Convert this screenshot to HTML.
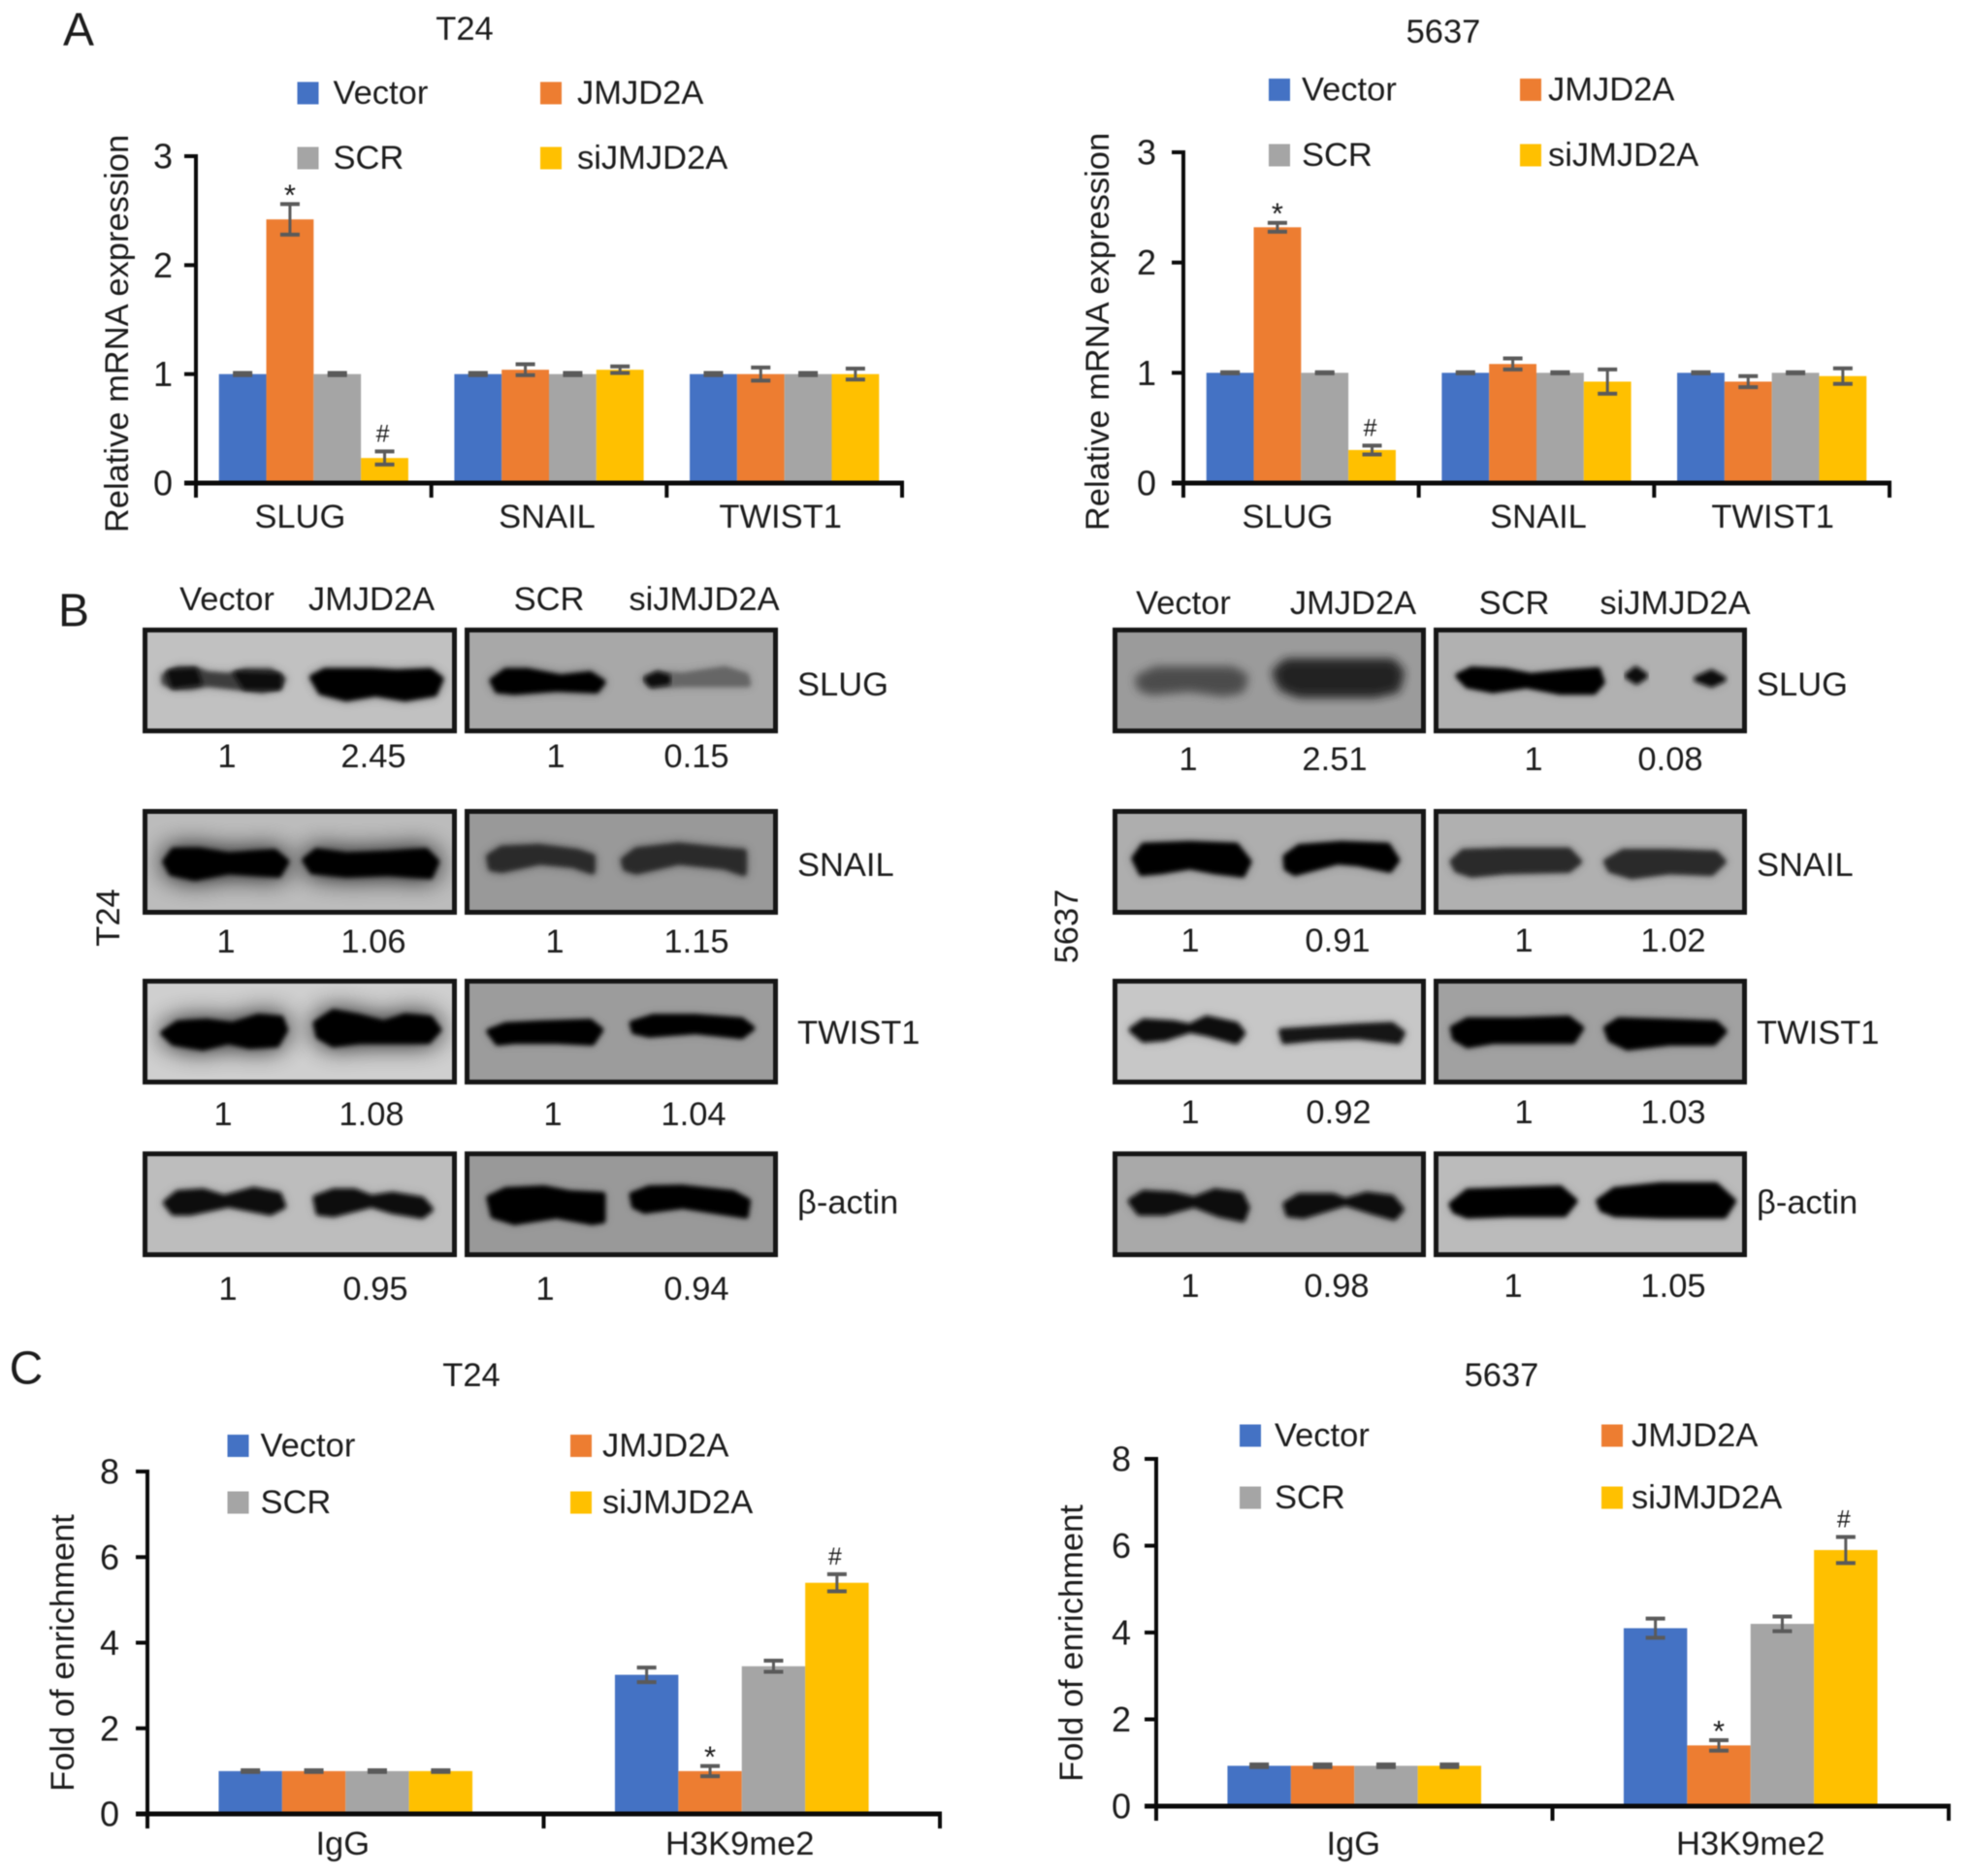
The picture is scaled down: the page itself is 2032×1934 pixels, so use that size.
<!DOCTYPE html>
<html lang="en">
<head>
<meta charset="utf-8">
<title>JMJD2A expression figure</title>
<style>
html,body{margin:0;padding:0;background:#fff;width:2032px;height:1934px;overflow:hidden}
svg{display:block;filter:blur(.55px)}
text{font-family:"Liberation Sans",sans-serif;font-size:34.5px;fill:#1c1c1c}
.m{text-anchor:middle;dominant-baseline:central}
.s{text-anchor:start;dominant-baseline:central}
.e{text-anchor:end;dominant-baseline:central}
</style>
</head>
<body>
<svg id="figure" xmlns="http://www.w3.org/2000/svg" width="2032" height="1934" viewBox="0 0 2032 1934">
<defs>
<filter id="b2" x="-20%" y="-80%" width="140%" height="260%"><feGaussianBlur stdDeviation="2.4"/></filter>
<filter id="b4" x="-30%" y="-100%" width="160%" height="300%"><feGaussianBlur stdDeviation="5"/></filter>
<filter id="b8" x="-40%" y="-200%" width="180%" height="500%"><feGaussianBlur stdDeviation="13"/></filter>
</defs>
<rect width="2032" height="1934" fill="#fff"/>

<text class="m" x="81" y="31" style="font-size:48px">A</text>
<text class="m" x="76" y="630" style="font-size:48px">B</text>
<text class="m" x="27" y="1411" style="font-size:48px">C</text>

<text class="m" x="479" y="30">T24</text>
<text class="m" x="1488" y="33">5637</text>
<text class="m" x="486" y="1418">T24</text>
<text class="m" x="1548" y="1418">5637</text>

<g id="blots"></g>

<g>
<text class="m" x="234" y="618">Vector</text><text class="m" x="383" y="618">JMJD2A</text><text class="m" x="566" y="618">SCR</text><text class="m" x="726" y="618">siJMJD2A</text>
</g>
<g>
<text class="m" x="1220" y="622">Vector</text><text class="m" x="1395" y="622">JMJD2A</text><text class="m" x="1561" y="622">SCR</text><text class="m" x="1727" y="622">siJMJD2A</text>
</g>
<g>
<text class="s" x="822" y="706">SLUG</text><text class="s" x="822" y="892">SNAIL</text><text class="s" x="822" y="1065">TWIST1</text><text class="s" x="822" y="1240" style='font-family:"Liberation Sans","DejaVu Sans",sans-serif'>β-actin</text>
</g>
<g>
<text class="s" x="1811" y="706">SLUG</text><text class="s" x="1811" y="892">SNAIL</text><text class="s" x="1811" y="1065">TWIST1</text><text class="s" x="1811" y="1240" style='font-family:"Liberation Sans","DejaVu Sans",sans-serif'>β-actin</text>
</g>
<text class="m" transform="translate(112 946) rotate(-90)">T24</text>
<text class="m" transform="translate(1100 955) rotate(-90)">5637</text>

<g>
<text class="m" x="234" y="780">1</text><text class="m" x="385" y="780">2.45</text><text class="m" x="573" y="780">1</text><text class="m" x="718" y="780">0.15</text>
<text class="m" x="233" y="971">1</text><text class="m" x="385" y="971">1.06</text><text class="m" x="572" y="971">1</text><text class="m" x="718" y="971">1.15</text>
<text class="m" x="230" y="1149">1</text><text class="m" x="383" y="1149">1.08</text><text class="m" x="570" y="1149">1</text><text class="m" x="715" y="1149">1.04</text>
<text class="m" x="235" y="1329">1</text><text class="m" x="387" y="1329">0.95</text><text class="m" x="562" y="1329">1</text><text class="m" x="718" y="1329">0.94</text>
</g>
<g>
<text class="m" x="1225" y="783">1</text><text class="m" x="1376" y="783">2.51</text><text class="m" x="1581" y="783">1</text><text class="m" x="1722" y="783">0.08</text>
<text class="m" x="1227" y="970">1</text><text class="m" x="1379" y="970">0.91</text><text class="m" x="1571" y="970">1</text><text class="m" x="1725" y="970">1.02</text>
<text class="m" x="1227" y="1147">1</text><text class="m" x="1380" y="1147">0.92</text><text class="m" x="1571" y="1147">1</text><text class="m" x="1725" y="1147">1.03</text>
<text class="m" x="1227" y="1326">1</text><text class="m" x="1378" y="1326">0.98</text><text class="m" x="1560" y="1326">1</text><text class="m" x="1725" y="1326">1.05</text>
</g>

<g id="chart-a-t24"></g>
<g id="chart-a-5637"></g>
<g id="chart-c-t24"></g>
<g id="chart-c-5637"></g>
</svg>

<script>
const seriesNames = ['Vector', 'JMJD2A', 'SCR', 'siJMJD2A'];
const seriesColors = ['#4472c4', '#ed7d31', '#a5a5a5', '#ffc000'];

const mrnaCategories = ['SLUG', 'SNAIL', 'TWIST1'];
const mrnaTicks = [0, 1, 2, 3];
const enrichCategories = ['IgG', 'H3K9me2'];
const enrichTicks = [0, 2, 4, 6, 8];

const aT24Vector = [1, 1, 1];
const aT24Jmjd2a = [2.42, 1.04, 1.0];
const aT24Scr = [1, 1, 1];
const aT24Si = [0.23, 1.04, 1.0];
const aT24VectorErr = [0.01, 0.01, 0.01];
const aT24Jmjd2aErr = [0.14, 0.05, 0.06];
const aT24ScrErr = [0.01, 0.01, 0.01];
const aT24SiErr = [0.06, 0.03, 0.05];

const a5637Vector = [1, 1, 1];
const a5637Jmjd2a = [2.32, 1.08, 0.92];
const a5637Scr = [1, 1, 1];
const a5637Si = [0.3, 0.92, 0.97];
const a5637VectorErr = [0.005, 0.005, 0.005];
const a5637Jmjd2aErr = [0.04, 0.05, 0.05];
const a5637ScrErr = [0.005, 0.005, 0.005];
const a5637SiErr = [0.04, 0.11, 0.07];

const cT24Vector = [1, 3.25];
const cT24Jmjd2a = [1, 1];
const cT24Scr = [1, 3.45];
const cT24Si = [1, 5.4];
const cT24VectorErr = [0.02, 0.17];
const cT24Jmjd2aErr = [0.02, 0.12];
const cT24ScrErr = [0.02, 0.13];
const cT24SiErr = [0.02, 0.2];

const c5637Vector = [0.93, 4.1];
const c5637Jmjd2a = [0.93, 1.4];
const c5637Scr = [0.93, 4.2];
const c5637Si = [0.93, 5.9];
const c5637VectorErr = [0.03, 0.22];
const c5637Jmjd2aErr = [0.03, 0.12];
const c5637ScrErr = [0.03, 0.17];
const c5637SiErr = [0.03, 0.3];

const NS = 'http://www.w3.org/2000/svg';
function mk(parent, tag, attrs, txt) {
  const el = document.createElementNS(NS, tag);
  for (const k in attrs) el.setAttribute(k, attrs[k]);
  if (txt !== undefined) el.textContent = txt;
  parent.appendChild(el);
  return el;
}

function drawChart(opts) {
  const root = document.getElementById(opts.id);
  const L = opts.layout;
  const yMax = opts.ticks[opts.ticks.length - 1];
  const yScale = v => L.y0 - (v / yMax) * (L.y0 - L.yTop);
  const groupW = (L.xRight - L.xLeft) / opts.categories.length;
  const center = i => L.xLeft + groupW * (i + 0.5);
  const barX = (i, s) => center(i) + (s - 2) * L.barW;

  opts.series.forEach((vals, s) => {
    vals.forEach((v, i) => {
      const bar = mk(root, 'rect', {x: barX(i, s), y: yScale(v), width: L.barW, height: L.y0 - yScale(v), fill: seriesColors[s]});
      
      
    });
  });
  opts.series.forEach((vals, s) => {
    vals.forEach((v, i) => {
      const e = opts.errors[s][i];
      const cx = barX(i, s) + L.barW / 2;
      const g = mk(root, 'g', {stroke: '#5a5a5a', 'stroke-width': 4, fill: 'none'});
      
      
      mk(g, 'line', {x1: cx, x2: cx, y1: yScale(v + e), y2: yScale(v - e), 'stroke-width': 3});
      mk(g, 'line', {x1: cx - 10, x2: cx + 10, y1: yScale(v + e), y2: yScale(v + e)});
      mk(g, 'line', {x1: cx - 10, x2: cx + 10, y1: yScale(v - e), y2: yScale(v - e)});
    });
  });
  opts.marks.forEach(m => {
    const v = opts.series[m.series][m.cat] + opts.errors[m.series][m.cat];
    const star = m.glyph === '*';
    const t = mk(root, 'text', {x: barX(m.cat, m.series) + L.barW / 2 + (star ? 0 : -2), y: yScale(v) + (star ? 1 : -10), 'text-anchor': 'middle', style: star ? 'font-size:31px' : 'font-size:25px'}, m.glyph);
    
    
  });

  const axes = mk(root, 'g', {stroke: '#0a0a0a', fill: 'none'});
  
  
  mk(axes, 'line', {x1: L.xLeft, x2: L.xLeft, y1: L.yTop - 2, y2: L.y0 + 15, 'stroke-width': 4});
  mk(axes, 'line', {x1: L.xLeft - 12, x2: L.xRight + 2, y1: L.y0, y2: L.y0, 'stroke-width': 5});
  opts.ticks.forEach(t => {
    mk(axes, 'line', {x1: L.xLeft - 12, x2: L.xLeft, y1: yScale(t), y2: yScale(t), 'stroke-width': 4});
    const lab = mk(root, 'text', {class: 'e', x: L.xLeft - L.tickGap, y: yScale(t), style: 'font-size:36px'}, String(t));
    
    
  });
  opts.categories.forEach((c, i) => {
    const tx = L.xLeft + groupW * (i + 1);
    mk(axes, 'line', {x1: tx, x2: tx, y1: L.y0, y2: L.y0 + 15, 'stroke-width': 4});
    const lab = mk(root, 'text', {class: 'm', x: center(i) + L.labelDx[i], y: L.labelY}, c);
    
    
  });

  const yt = mk(root, 'text', {class: 'm', transform: 'translate(' + L.yTitleX + ' ' + L.yTitleY + ') rotate(-90)'}, opts.yTitle);
  
  

  seriesNames.forEach((name, s) => {
    const col = s % 2, row = s < 2 ? 0 : 1;
    const lx = col === 0 ? L.legX1 : L.legX2;
    const ly = row === 0 ? L.legY1 : L.legY2;
    const gap = col === 0 ? L.legGap1 : L.legGap2;
    const entry = mk(root, 'g', {});
    
    
    mk(entry, 'rect', {x: lx, y: ly - 11.5, width: 22, height: 23, fill: seriesColors[s]});
    mk(entry, 'text', {class: 's', x: lx + gap, y: ly}, name);
  });
}

drawChart({
  id: 'chart-a-t24', categories: mrnaCategories, ticks: mrnaTicks, yTitle: 'Relative mRNA expression',
  series: [aT24Vector, aT24Jmjd2a, aT24Scr, aT24Si],
  errors: [aT24VectorErr, aT24Jmjd2aErr, aT24ScrErr, aT24SiErr],
  marks: [{cat: 0, series: 1, glyph: '*'}, {cat: 0, series: 3, glyph: '#'}],
  layout: {xLeft: 202, xRight: 930, y0: 498, yTop: 161, barW: 48.8, tickGap: 24, labelDx: [-14, -2, -4], labelY: 533,
    yTitleX: 121, yTitleY: 344, legX1: 306.5, legX2: 557, legY1: 96, legY2: 163, legGap1: 37, legGap2: 38}
});
drawChart({
  id: 'chart-a-5637', categories: mrnaCategories, ticks: mrnaTicks, yTitle: 'Relative mRNA expression',
  series: [a5637Vector, a5637Jmjd2a, a5637Scr, a5637Si],
  errors: [a5637VectorErr, a5637Jmjd2aErr, a5637ScrErr, a5637SiErr],
  marks: [{cat: 0, series: 1, glyph: '*'}, {cat: 0, series: 3, glyph: '#'}],
  layout: {xLeft: 1220, xRight: 1948, y0: 498, yTop: 157, barW: 48.8, tickGap: 28, labelDx: [-14, 2, 1], labelY: 533,
    yTitleX: 1132, yTitleY: 342, legX1: 1308, legX2: 1567, legY1: 92.5, legY2: 160, legGap1: 34, legGap2: 29}
});
drawChart({
  id: 'chart-c-t24', categories: enrichCategories, ticks: enrichTicks, yTitle: 'Fold of enrichment',
  series: [cT24Vector, cT24Jmjd2a, cT24Scr, cT24Si],
  errors: [cT24VectorErr, cT24Jmjd2aErr, cT24ScrErr, cT24SiErr],
  marks: [{cat: 1, series: 1, glyph: '*'}, {cat: 1, series: 3, glyph: '#'}],
  layout: {xLeft: 152, xRight: 969, y0: 1870, yTop: 1517, barW: 65.4, tickGap: 29, labelDx: [-3, -2], labelY: 1901,
    yTitleX: 65, yTitleY: 1704, legX1: 234.5, legX2: 588, legY1: 1490.5, legY2: 1549, legGap1: 34, legGap2: 33}
});
drawChart({
  id: 'chart-c-5637', categories: enrichCategories, ticks: enrichTicks, yTitle: 'Fold of enrichment',
  series: [c5637Vector, c5637Jmjd2a, c5637Scr, c5637Si],
  errors: [c5637VectorErr, c5637Jmjd2aErr, c5637ScrErr, c5637SiErr],
  marks: [{cat: 1, series: 1, glyph: '*'}, {cat: 1, series: 3, glyph: '#'}],
  layout: {xLeft: 1192, xRight: 2009, y0: 1862, yTop: 1504, barW: 65.4, tickGap: 26, labelDx: [-1, 0], labelY: 1901,
    yTitleX: 1105, yTitleY: 1694, legX1: 1278, legX2: 1651, legY1: 1480, legY2: 1544, legGap1: 36, legGap2: 31}
});

// Western blot images, approximated as blurred band outlines on grey membranes.
const blotRows = [
  {name: 'slug', y: 647, h: 109, oy: 640},
  {name: 'snail', y: 834, h: 109, oy: 640},
  {name: 'twist1', y: 1009, h: 109, oy: 1005},
  {name: 'actin', y: 1187, h: 109, oy: 1005}
];
const blotCols = [
  {name: 't24-overexpression', x: 147, w: 324, ox: 140},
  {name: 't24-knockdown', x: 479, w: 323, ox: 140},
  {name: '5637-overexpression', x: 1147, w: 323, ox: 1140},
  {name: '5637-knockdown', x: 1478, w: 323, ox: 1140}
];
// Band outlines are traced in a local tracing grid. f: fill, h: halo opacity, w: wide halo, s: soft edge.
const blotBands = [
  [
    {bg:'#c1c1c1', b:[
      {f:'#3c3c3c',h:.2,p:[68,170,100,150,140,150,170,165,220,170,260,155,320,155,350,180,340,205,300,215,240,205,170,195,130,205,90,205,68,190]},
      {f:'#0c0c0c',h:0,p:[80,160,140,155,150,190,90,200]},
      {f:'#0c0c0c',h:0,p:[240,165,340,170,340,205,260,205]},
      {f:'#040404',h:.3,p:[420,175,450,155,560,155,620,160,700,155,725,180,710,225,640,240,570,225,500,240,440,220]}]},
    {bg:'#a8a8a8', b:[
      {f:'#040404',h:.3,p:[848,185,880,155,930,155,1010,175,1080,165,1110,190,1095,215,1000,210,900,220,860,215]},
      {f:'#666',h:.15,p:[1210,180,1240,165,1300,170,1400,150,1450,170,1455,195,1400,195,1300,195,1230,200]},
      {f:'#0a0a0a',h:0,p:[1215,180,1240,165,1265,175,1265,190,1225,198]}]},
    {bg:'#9b9b9b', b:[
      {f:'#4c4c4c',h:.25,s:1,p:[80,180,120,155,200,155,300,155,328,175,320,210,280,220,200,205,110,215,85,205]},
      {f:'#242424',h:.3,s:1,p:[405,160,430,130,560,130,680,130,700,160,690,210,640,225,460,225,420,205]}]},
    {bg:'#b1b1b1', b:[
      {f:'#040404',h:.1,p:[838,170,870,150,950,155,1010,170,1090,160,1170,152,1180,190,1160,220,1080,220,1000,200,920,215,860,200]},
      {f:'#0a0a0a',h:.15,p:[1240,170,1260,150,1282,170,1262,188]},
      {f:'#0a0a0a',h:.15,p:[1405,180,1440,160,1468,180,1440,197]}]}
  ],
  [
    {bg:'#bcbcbc', b:[
      {f:'#040404',h:.95,w:1,p:[70,745,90,710,150,710,220,725,330,715,358,745,340,785,220,775,140,795,85,780]},
      {f:'#040404',h:.95,w:1,p:[402,740,430,712,500,725,600,720,690,712,715,745,700,790,600,780,500,785,420,775]}]},
    {bg:'#999', b:[
      {f:'#2a2a2a',h:.3,p:[840,730,870,705,960,700,1050,715,1085,730,1085,775,1040,755,960,745,870,770,845,765]},
      {f:'#2a2a2a',h:.3,p:[1160,740,1190,710,1290,695,1400,710,1445,715,1445,780,1400,760,1290,745,1190,775,1165,765]}]},
    {bg:'#aeaeae', b:[
      {f:'#040404',h:.2,p:[68,735,90,695,200,690,310,695,340,745,325,785,260,775,200,760,130,775,85,780]},
      {f:'#040404',h:.2,p:[428,730,460,700,560,690,670,695,692,740,675,770,600,750,550,745,450,780,430,765]}]},
    {bg:'#b0b0b0', b:[
      {f:'#2c2c2c',h:.2,p:[825,745,850,715,950,710,1100,710,1125,745,1100,770,950,775,870,785,835,770]},
      {f:'#2c2c2c',h:.2,p:[1190,745,1230,715,1340,715,1450,720,1468,745,1440,780,1340,775,1250,790,1200,770]}]}
  ],
  [
    {bg:'#cfcfcf', b:[
      {f:'#040404',h:.9,w:1,p:[65,180,100,150,170,145,230,155,290,130,345,135,355,170,335,215,270,220,220,205,160,225,90,210]},
      {f:'#040404',h:.9,w:1,p:[428,150,470,115,530,130,590,150,640,128,700,135,720,170,695,205,620,205,530,205,470,215,435,190]}]},
    {bg:'#9c9c9c', b:[
      {f:'#040404',h:.1,p:[840,175,880,155,960,150,1080,145,1105,170,1085,210,1000,205,900,205,860,210]},
      {f:'#040404',h:.1,p:[1180,150,1230,130,1330,130,1440,140,1465,165,1440,190,1330,175,1220,185,1185,175]}]},
    {bg:'#c7c7c7', b:[
      {f:'#101010',h:.2,p:[62,170,90,145,160,150,200,160,240,135,310,155,325,180,310,205,240,180,200,170,140,195,90,200]},
      {f:'#141414',h:.2,p:[418,175,470,170,600,160,680,155,705,180,695,205,600,190,500,195,425,205]}]},
    {bg:'#a1a1a1', b:[
      {f:'#040404',h:.15,p:[825,165,860,140,980,140,1100,135,1130,165,1110,205,1000,205,920,205,860,218,830,195]},
      {f:'#040404',h:.15,p:[1190,165,1220,140,1340,145,1450,150,1470,175,1445,210,1340,210,1240,225,1200,200]}]}
  ],
  [
    {bg:'#bdbdbd', b:[
      {f:'#0a0a0a',h:.2,p:[72,705,100,675,160,670,210,690,280,665,340,680,350,715,320,735,220,710,130,735,90,735]},
      {f:'#0a0a0a',h:.2,p:[428,690,470,670,520,670,560,690,610,680,680,695,700,725,680,745,610,730,560,710,470,740,435,735]}]},
    {bg:'#999', b:[
      {f:'#040404',h:.1,p:[840,690,880,665,970,660,1030,675,1110,680,1110,760,1085,765,1000,745,900,765,850,745]},
      {f:'#040404',h:.1,p:[1180,680,1220,660,1300,658,1420,675,1455,700,1450,745,1400,735,1300,715,1210,730,1185,715]}]},
    {bg:'#a9a9a9', b:[
      {f:'#080808',h:.2,p:[60,700,90,675,160,680,210,695,260,670,320,680,335,720,325,755,270,740,210,710,140,735,80,735]},
      {f:'#080808',h:.2,p:[428,710,460,685,540,685,570,700,620,680,680,690,702,725,685,750,630,730,570,705,470,745,435,740]}]},
    {bg:'#bbb', b:[
      {f:'#040404',h:.12,p:[822,710,860,670,960,665,1080,660,1115,700,1090,740,960,740,860,745,830,730]},
      {f:'#040404',h:.12,p:[1172,700,1210,665,1320,650,1450,650,1492,700,1470,745,1320,745,1210,740,1180,725]}]}
  ]
];
const traceScaleX = 680 / 1568;
const traceScaleY = 1 / 3;

function bandPoints(band, col, row) {
  const pts = [];
  for (let i = 0; i < band.p.length; i += 2) {
    pts.push((col.ox + band.p[i] * traceScaleX).toFixed(1) + ',' + (row.oy + band.p[i + 1] * traceScaleY).toFixed(1));
  }
  return pts.join(' ');
}

const blotRoot = document.getElementById('blots');
blotRows.forEach((row, r) => {
  blotCols.forEach((col, c) => {
    const spec = blotBands[r][c];
    const clipId = 'clip-' + r + '-' + c;
    const clip = mk(blotRoot, 'clipPath', {id: clipId});
    mk(clip, 'rect', {x: col.x, y: row.y, width: col.w, height: row.h});
    const g = mk(blotRoot, 'g', {});
    
    
    const inner = mk(g, 'g', {'clip-path': 'url(#' + clipId + ')'});
    mk(inner, 'rect', {x: col.x, y: row.y, width: col.w, height: row.h, fill: spec.bg});
    spec.b.forEach(b => {
      if (b.h > 0) mk(inner, 'polygon', {points: bandPoints(b, col, row), fill: '#000', stroke: '#000', 'stroke-width': 8, 'stroke-linejoin': 'round', opacity: b.h, filter: b.w ? 'url(#b8)' : 'url(#b4)'});
    });
    spec.b.forEach(b => {
      mk(inner, 'polygon', {points: bandPoints(b, col, row), fill: b.f, stroke: b.f, 'stroke-width': 6, 'stroke-linejoin': 'round', filter: b.s ? 'url(#b4)' : 'url(#b2)'});
    });
    mk(g, 'rect', {x: col.x + 2.5, y: row.y + 2.5, width: col.w - 5, height: row.h - 5, fill: 'none', stroke: '#161616', 'stroke-width': 5});
  });
});
</script>
</body>
</html>
